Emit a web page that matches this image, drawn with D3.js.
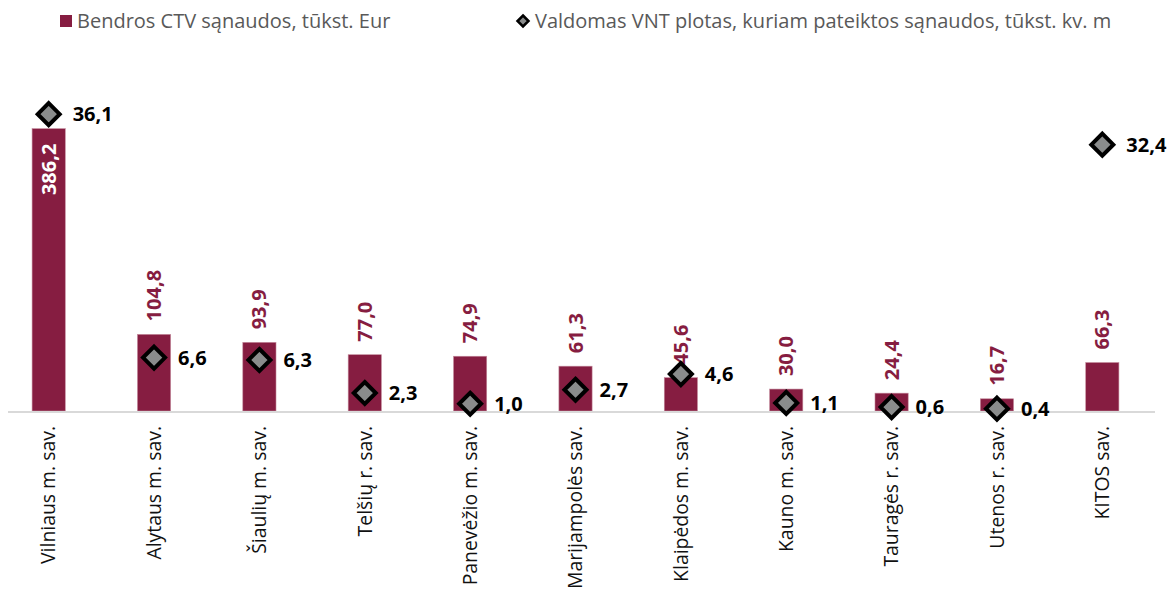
<!DOCTYPE html>
<html>
<head>
<meta charset="utf-8">
<script src="https://cdn.jsdelivr.net/npm/d3@7"></script>
<style>
  html, body { margin: 0; padding: 0; background: #fff; }
  svg { display: block; font-family: "Open Sans", "Noto Sans", sans-serif; }
</style>
</head>
<body>
<svg id="chart" width="1168" height="591"></svg>
<script>
// Municipalities
const categories = [
  "Vilniaus m. sav.", "Alytaus m. sav.", "Šiaulių m. sav.", "Telšių r. sav.",
  "Panevėžio m. sav.", "Marijampolės sav.", "Klaipėdos m. sav.", "Kauno m. sav.",
  "Tauragės r. sav.", "Utenos r. sav.", "KITOS sav."
];
// Total costs, thousand EUR (bars, left axis)
const costs = [386.2, 104.8, 93.9, 77.0, 74.9, 61.3, 45.6, 30.0, 24.4, 16.7, 66.3];
// Managed area, thousand sq. m (diamonds, right axis)
const areas = [36.1, 6.6, 6.3, 2.3, 1.0, 2.7, 4.6, 1.1, 0.6, 0.4, 32.4];
const seriesNames = [
  "Bendros CTV sąnaudos, tūkst. Eur",
  "Valdomas VNT plotas, kuriam pateiktos sąnaudos, tūkst. kv. m"
];
const costDomain = [0, 450];
const areaDomain = [0, 40];

const maroon = "#861d41";
const fmt = v => d3.format(".1f")(v).replace(".", ",");

const svg = d3.select("#chart");
const plot = { left: -4, right: 1155, top: 82, bottom: 411 };

const x = d3.scaleBand().domain(categories).range([plot.left, plot.right]).paddingInner(0.685).paddingOuter(0.3425);
const yCost = d3.scaleLinear().domain(costDomain).range([plot.bottom, plot.top]);
const yArea = d3.scaleLinear().domain(areaDomain).range([plot.bottom + 1, plot.top]);

// Bars
svg.append("g").selectAll("rect").data(costs).join("rect")
  .attr("x", (d, i) => x(categories[i]))
  .attr("width", x.bandwidth())
  .attr("y", d => yCost(d))
  .attr("height", d => yCost(0) - yCost(d))
  .attr("fill", maroon)
  .attr("stroke", "#c48a9c")
  .attr("stroke-width", 0.6);

// Category axis line
svg.append("line")
  .attr("x1", 8).attr("x2", plot.right)
  .attr("y1", plot.bottom + 1).attr("y2", plot.bottom + 1)
  .attr("stroke", "#d9d9d9").attr("stroke-width", 2);

// Category labels via a bottom axis (no line, no ticks)
const xAxis = svg.append("g")
  .attr("transform", `translate(0,${plot.bottom + 15})`)
  .call(d3.axisBottom(x).tickSize(0).tickPadding(0));
xAxis.select(".domain").remove();
xAxis.selectAll("text")
  .attr("transform", "rotate(-90)")
  .attr("text-anchor", "end")
  .attr("x", 0).attr("y", 0).attr("dy", "0.35em")
  .attr("font-family", "Open Sans, sans-serif")
  .attr("font-size", 19.4)
  .attr("fill", "#111");

// Bar value labels (inside the tallest bar, above the rest)
const inside = d => d > 300;
svg.append("g").selectAll("text").data(costs).join("text")
  .attr("transform", (d, i) => {
    const cx = x(categories[i]) + x.bandwidth() / 2;
    const y = inside(d) ? yCost(d) + 15 : yCost(d) - 13;
    return `translate(${cx},${y}) rotate(-90)`;
  })
  .attr("text-anchor", d => inside(d) ? "end" : "start")
  .attr("dy", "0.35em")
  .attr("font-size", 20)
  .attr("font-weight", 700)
  .attr("fill", d => inside(d) ? "#fff" : maroon)
  .text(fmt);

// Diamond markers
const diamond = "M0,-11L11,0L0,11L-11,0Z";
const pts = svg.append("g").selectAll("g").data(areas).join("g")
  .attr("transform", (d, i) => `translate(${x(categories[i]) + x.bandwidth() / 2},${yArea(d)})`);
pts.append("path")
  .attr("d", diamond)
  .attr("fill", "#8a8c8c")
  .attr("stroke", "#000")
  .attr("stroke-width", 4)
  .attr("stroke-linejoin", "miter");
pts.append("text")
  .attr("x", 24)
  .attr("dy", "0.35em")
  .attr("font-size", 20)
  .attr("font-weight", 700)
  .attr("fill", "#000")
  .text(fmt);

// Legend
const legend = svg.append("g").attr("font-size", 20).attr("fill", "#595959");
legend.append("rect").attr("x", 60).attr("y", 15).attr("width", 12).attr("height", 12).attr("fill", maroon);
legend.append("text").attr("x", 77).attr("y", 21).attr("dy", "0.35em").text(seriesNames[0]);
legend.append("path")
  .attr("transform", "translate(523,21)")
  .attr("d", "M0,-5.5L5.5,0L0,5.5L-5.5,0Z")
  .attr("fill", "#8a8c8c").attr("stroke", "#000").attr("stroke-width", 2.5);
legend.append("text").attr("x", 535).attr("y", 21).attr("dy", "0.35em").text(seriesNames[1]);
</script>
</body>
</html>
